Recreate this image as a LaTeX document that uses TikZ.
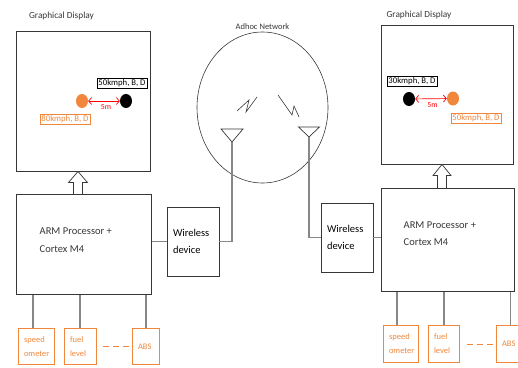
\documentclass[tikz,border=0pt]{standalone}
\usepackage{fontspec}
\setmainfont{Carlito}
\usetikzlibrary{arrows.meta,positioning,calc,shapes.geometric}
\definecolor{ink}{RGB}{55,55,55}
\definecolor{wireg}{RGB}{135,135,135}
\definecolor{orng}{RGB}{240,135,60}
\tikzset{
  panel/.style={draw=ink,line width=1pt,inner sep=0pt},
  radio/.style={draw=ink,line width=0.9pt,font=\fontsize{10.5}{17.5}\selectfont,align=left,
    text width=40pt,inner xsep=6pt,minimum height=69pt},
  cpulabel/.style={inner sep=0pt,align=left,font=\fontsize{10.5}{17.5}\selectfont,text=ink},
  sensor/.style={draw=orng,line width=0.8pt,text=orng,font=\fontsize{8.5}{14}\selectfont,
    align=left,inner xsep=6pt,minimum height=36.5pt,text width=#1},
  tag/.style={draw,fill=white,inner sep=1.2pt,font=\fontsize{8.7}{10}\selectfont},
  dot/.style={ellipse,inner sep=0pt,minimum width=12pt,minimum height=14pt},
  wire/.style={draw=wireg,line width=1.3pt},
  gap/.style={{Straight Barb[length=3pt,width=7pt]}-{Straight Barb[length=3pt,width=7pt]},
    red,line width=0.7pt},
  fivem/.style={font=\fontsize{7.8}{9}\selectfont,text=red,inner sep=1pt},
  blockarr/.style={draw=ink,fill=white,line width=0.7pt},
  title/.style={font=\fontsize{9.3}{11}\selectfont,text=ink},
}

\begin{document}
\begin{tikzpicture}[x=1pt,y=-1pt]
\useasboundingbox (0,0) rectangle (518,367);

% displays
\node[title] (ltitle) at (61.5,16) {Graphical Display};
\node[title] (rtitle) at (419,15) {Graphical Display};
\node[panel,minimum width=134pt,minimum height=140pt] (ldisp) at (83,101) {};
\node[panel,minimum width=132pt,minimum height=139pt] (rdisp) at (447,94.5) {};

% cars on the left screen
\node[dot,fill=orng] (lorg) at (82,101) {};
\node[dot,fill=black] (lblk) at (126,101) {};
\node[tag] (ltagb) at (122,83) {50kmph, B, D};
\node[tag,draw=orng,text=orng] (ltago) at (65,119) {80kmph, B, D};
\draw[gap] (lorg) -- node[below=2.5pt,fivem,xshift=2pt] {5m} (lblk);

% cars on the right screen
\node[dot,fill=black] (rblk) at (409,99) {};
\node[dot,fill=orng] (rorg) at (453,98.5) {};
\node[tag] (rtagb) at (412,81) {30kmph, B, D};
\node[tag,draw=orng,text=orng] (rtago) at (476,118.5) {50kmph, B, D};
\draw[gap] (rblk) -- node[below=2pt,fivem,xshift=1.5pt] {5m} (rorg);

% processors
\node[panel,minimum width=135pt,minimum height=100pt] (lproc) at (83.5,244) {};
\node[panel,minimum width=133pt,minimum height=103pt] (rproc) at (447.5,239.5) {};
\node[cpulabel,anchor=west] (lcpu) at ($(lproc.north west)+(24,46.5)$) {ARM Processor +\\Cortex M4};
\node[cpulabel,anchor=west] (rcpu) at ($(rproc.north west)+(23,46)$) {ARM Processor +\\Cortex M4};

% hollow arrows up to the screens
\draw[blockarr] ([xshift=-5pt]ldisp.south) -- ++(9.5,11) -- ++(-5,0) -- ++(0,12)
  -- ++(-9,0) -- ++(0,-12) -- ++(-5,0) -- cycle;
\draw[blockarr] ([xshift=-5pt]rdisp.south) -- ++(9,11) -- ++(-4.5,0) -- ++(0,13)
  -- ++(-9,0) -- ++(0,-13) -- ++(-4.5,0) -- cycle;

% wireless devices
\node[radio] (lwl) at (193,241.5) {Wireless\\device};
\node[radio] (rwl) at (347,237.5) {Wireless\\device};
\draw[wire] (lwl.west) -- (lwl.west -| lproc.east);
\draw[wire] (rwl.east) -- (rwl.east -| rproc.west);

% ad hoc network
\node[draw=ink,ellipse,line width=0.6pt,minimum width=131pt,minimum height=151pt,
  label={[font=\fontsize{8.5}{10}\selectfont,text=ink,inner sep=2pt]above:Adhoc Network}]
  (net) at (262.5,107.5) {};
\draw[ink,line width=0.6pt] (237,111) -- (249,100) -- (246,112) -- (257,97);
\draw[ink,line width=0.6pt] (278,95) -- (292,115) -- (294,106) -- (299,117);

% antennas
\coordinate (lant) at (232,142);
\coordinate (rant) at (309,137);
\draw[ink,line width=0.7pt] (lant) -- ++(-11,-13) -- ++(22,0) -- cycle;
\draw[ink,line width=0.7pt] (rant) -- ++(-10.5,-10) -- ++(21,0) -- cycle;
\draw[wire] (lwl.east) -| (lant);
\draw[wire] (rwl.west) -| (rant);

% sensors
\foreach \nm/\cx/\cy/\w/\txt in {lspd/36/346.5/24/{speed\\ometer},lfuel/80/346.5/20/{fuel\\level},
    labs/145.5/346.5/15/ABS,rspd/400.5/344/23/{speed\\ometer},rfuel/443.5/344/19/{fuel\\level},
    rabs/509.5/344/15/ABS}{
  \node[sensor=\w pt] (\nm) at (\cx,\cy) {\txt};}
\foreach \s/\p/\dx in {lspd/lproc/-3,lfuel/lproc/0,labs/lproc/0.5,
    rspd/rproc/-3.5,rfuel/rproc/0.5,rabs/rproc/1}{
  \path ([xshift=\dx pt]\s.north) coordinate (foot);
  \draw[wire] (foot) -- (foot |- \p.south);}
\draw[orng,line width=0.8pt,dash pattern=on 6pt off 4pt] ([xshift=7pt]lfuel.east) -- ([xshift=-2pt]labs.west);
\draw[orng,line width=0.8pt,dash pattern=on 6pt off 4pt] ([xshift=8pt]rfuel.east) -- ([xshift=-3pt]rabs.west);
\end{tikzpicture}
\end{document}
